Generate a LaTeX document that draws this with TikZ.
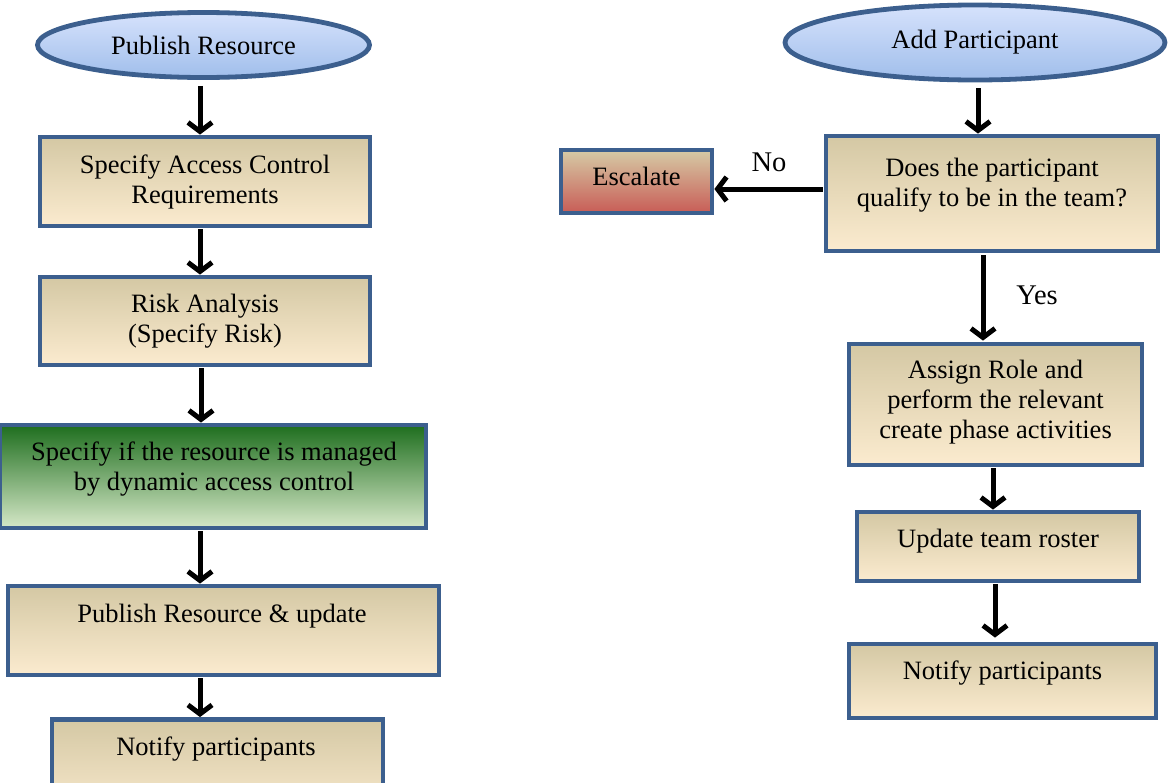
\documentclass[tikz,border=0pt]{standalone}
\usepackage{fontspec}
\setmainfont{Liberation Serif}
\usetikzlibrary{shapes.geometric,arrows.meta}
\definecolor{bordblue}{RGB}{60,95,142}
\definecolor{tanTop}{RGB}{212,200,164}
\definecolor{tanMid}{RGB}{240,235,218}
\definecolor{tanBot}{RGB}{251,235,207}
\definecolor{grnTop}{RGB}{30,110,30}
\definecolor{grnMid}{RGB}{128,172,98}
\definecolor{grnBot}{RGB}{214,232,200}
\definecolor{escTop}{RGB}{214,203,166}
\definecolor{escMid}{RGB}{236,226,212}
\definecolor{escBot}{RGB}{200,92,86}
\definecolor{bluTop}{RGB}{214,226,252}
\definecolor{bluMid}{RGB}{206,220,250}
\definecolor{bluBot}{RGB}{160,190,235}
\begin{document}
\begin{tikzpicture}[x=1pt,y=-1pt,
  every node/.style={font=\fontsize{26.5}{30}\selectfont},
  box/.style={draw=bordblue, line width=4.8pt, rectangle, inner sep=0pt, align=center,
    top color=tanTop, middle color=tanMid, bottom color=tanBot},
  greenbox/.style={box, top color=grnTop, middle color=grnMid, bottom color=grnBot},
  escbox/.style={box, top color=escTop, middle color=escMid, bottom color=escBot},
  startnode/.style={draw=bordblue, line width=4.8pt, ellipse, inner sep=0pt,
    top color=bluTop, middle color=bluMid, bottom color=bluBot},
  txt/.style={inner sep=0pt, align=center},
  lbl/.style={inner sep=0pt, font=\fontsize{28.5}{32}\selectfont},
  arr/.style={line width=5pt, -{Straight Barb[length=9pt,width=24pt]}}
]
\useasboundingbox (0,0) rectangle (1169,782);
\clip (0,0) rectangle (1169,782);

% left column
\node[startnode, minimum width=332pt, minimum height=65pt] (e1) at (203.5,45) {Publish Resource};
\node[box, minimum width=330pt, minimum height=89pt] (b1) at (205,181.5) {Specify Access Control\\Requirements};
\node[box, minimum width=330pt, minimum height=88pt] (b2) at (205,321) {Risk Analysis\\(Specify Risk)};
\node[greenbox, minimum width=426pt, minimum height=103pt] (b3) at (213,476.5) {};
\node[txt] (t3) at (214,469) {Specify if the resource is managed\\by dynamic access control};
\node[box, minimum width=431pt, minimum height=89pt] (b4) at (223.5,630.5) {};
\node[txt, anchor=base] (t4) at (222,622) {Publish Resource \& update};
\node[box, minimum width=331pt, minimum height=100pt] (b5) at (217.5,769.5) {};
\node[txt, anchor=base] (t5) at (216,755) {Notify participants};

\coordinate (lx) at (200,0);
\draw[arr, shorten <=6pt] (e1.south -| lx) -- (b1.north -| lx);
\draw[arr, shorten <=1pt] (b1.south -| lx) -- (b2.north -| lx);
\draw[arr, shorten <=1pt] ([xshift=1pt]b2.south -| lx) -- ([xshift=1pt]b3.north -| lx);
\draw[arr, shorten <=1pt] (b3.south -| lx) -- (b4.north -| lx);
\draw[arr, shorten <=1pt] (b4.south -| lx) -- (b5.north -| lx);

% right column
\node[startnode, minimum width=380pt, minimum height=75pt] (e2) at (975,42.5) {Add Participant};
\node[box, minimum width=332pt, minimum height=115pt] (b6) at (992,193.5) {};
\node[txt] (t6) at (992,185.5) {Does the participant\\qualify to be in the team?};
\node[escbox, minimum width=151pt, minimum height=63pt] (esc) at (636.5,181.5) {};
\node[txt, anchor=base] (tesc) at (636.5,185) {Escalate};
\node[box, minimum width=293pt, minimum height=121pt] (b7) at (995.5,404.5) {};
\node[txt] (t7) at (995.5,402) {Assign Role and\\perform the relevant\\create phase activities};
\node[box, minimum width=282pt, minimum height=69pt] (b8) at (998,546.5) {};
\node[txt, anchor=base] (t8) at (998,547) {Update team roster};
\node[box, minimum width=307pt, minimum height=74pt] (b9) at (1002.5,681) {};
\node[txt, anchor=base] (t9) at (1002.5,679) {Notify participants};

\coordinate (rx1) at (978,0);
\coordinate (rx2) at (983,0);
\coordinate (rx3) at (993,0);
\coordinate (rx4) at (995,0);
\coordinate (ny) at (0,189);
\draw[arr, shorten <=6pt] (e2.south -| rx1) -- (b6.north -| rx1);
\draw[arr, shorten <=2pt, shorten >=1pt] (b6.south -| rx2) -- (b7.north -| rx2);
\draw[arr, shorten <=1pt] (b7.south -| rx3) -- (b8.north -| rx3);
\draw[arr, shorten <=1pt, shorten >=4pt] (b8.south -| rx4) -- (b9.north -| rx4);
\draw[arr, shorten <=1pt] (b6.west |- ny) -- (esc.east |- ny);

\node[lbl] (no) at (769,162) {No};
\node[lbl] (yes) at (1037,295) {Yes};
\end{tikzpicture}
\end{document}
